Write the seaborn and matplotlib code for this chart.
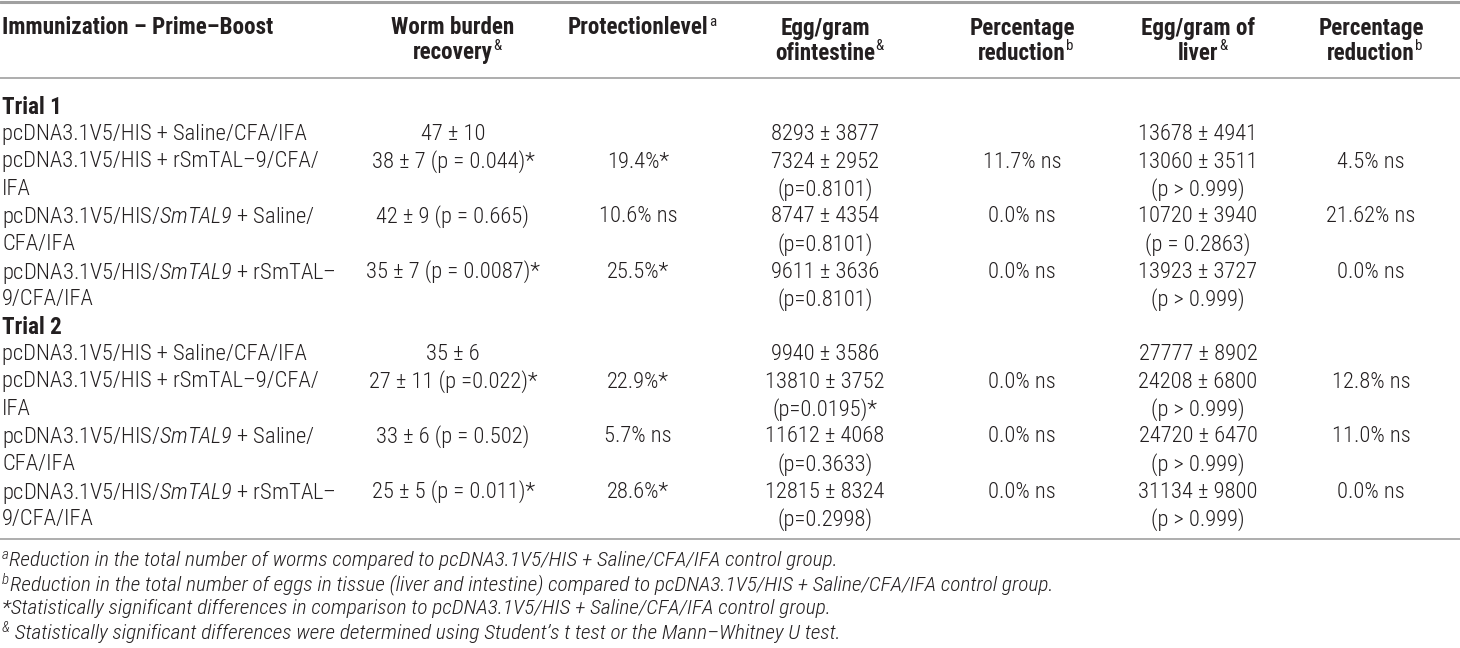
import seaborn as sns
import matplotlib
matplotlib.use("Agg")
import matplotlib.pyplot as plt
from matplotlib import font_manager

# table contents
headers = ["Immunization \u2013 Prime\u2013Boost",
           "Worm burden\nrecovery",
           "Protectionlevel",
           "Egg/gram\nofintestine",
           "Percentage\nreduction",
           "Egg/gram of\nliver",
           "Percentage\nreduction"]
header_sups = ["", "&", "a", "&", "b", "&", "b"]

groups = ["Trial 1", "Trial 2"]

labels = ["pcDNA3.1V5/HIS + Saline/CFA/IFA",
          "pcDNA3.1V5/HIS + rSmTAL\u20139/CFA/\nIFA",
          "pcDNA3.1V5/HIS/$\\mathrm{SmTAL9}$ + Saline/\nCFA/IFA",
          "pcDNA3.1V5/HIS/$\\mathrm{SmTAL9}$ + rSmTAL\u2013\n9/CFA/IFA"]

worm_t1 = ["47 \u00b1 10", "38 \u00b1 7 (p = 0.044)*", "42 \u00b1 9 (p = 0.665)", "35 \u00b1 7 (p = 0.0087)*"]
prot_t1 = ["", "19.4%*", "10.6% ns", "25.5%*"]
egg_int_t1 = ["8293 \u00b1 3877", "7324 \u00b1 2952\n(p=0.8101)", "8747 \u00b1 4354\n(p=0.8101)", "9611 \u00b1 3636\n(p=0.8101)"]
red_int_t1 = ["", "11.7% ns", "0.0% ns", "0.0% ns"]
egg_liv_t1 = ["13678 \u00b1 4941", "13060 \u00b1 3511\n(p > 0.999)", "10720 \u00b1 3940\n(p = 0.2863)", "13923 \u00b1 3727\n(p > 0.999)"]
red_liv_t1 = ["", "4.5% ns", "21.62% ns", "0.0% ns"]

worm_t2 = ["35 \u00b1 6", "27 \u00b1 11 (p =0.022)*", "33 \u00b1 6 (p = 0.502)", "25 \u00b1 5 (p = 0.011)*"]
prot_t2 = ["", "22.9%*", "5.7% ns", "28.6%*"]
egg_int_t2 = ["9940 \u00b1 3586", "13810 \u00b1 3752\n(p=0.0195)*", "11612 \u00b1 4068\n(p=0.3633)", "12815 \u00b1 8324\n(p=0.2998)"]
red_int_t2 = ["", "0.0% ns", "0.0% ns", "0.0% ns"]
egg_liv_t2 = ["27777 \u00b1 8902", "24208 \u00b1 6800\n(p > 0.999)", "24720 \u00b1 6470\n(p > 0.999)", "31134 \u00b1 9800\n(p > 0.999)"]
red_liv_t2 = ["", "12.8% ns", "11.0% ns", "0.0% ns"]

foot_marks = ["a", "b", "", "&"]
footnotes = ["Reduction in the total number of worms compared to pcDNA3.1V5/HIS + Saline/CFA/IFA control group.",
             "Reduction in the total number of eggs in tissue (liver and intestine) compared to pcDNA3.1V5/HIS + Saline/CFA/IFA control group.",
             "*Statistically significant differences in comparison to pcDNA3.1V5/HIS + Saline/CFA/IFA control group.",
             " Statistically significant differences were determined using Student\u2019s t test or the Mann\u2013Whitney U test."]

sns.set_theme(style="white")

# a narrow sans with regular, bold and italic faces, if there is one
faces = {}
for f in font_manager.fontManager.ttflist:
    faces.setdefault(f.name, set()).add((f.style, int(f.weight)))
font = "Liberation Sans"
for cand in ["Liberation Sans Narrow", "Roboto Condensed", "Archivo Narrow", "PT Sans Narrow",
             "Encode Sans Condensed", "Open Sans Condensed"]:
    s = faces.get(cand, set())
    if any(st == "normal" and w >= 600 for st, w in s) and any(st == "italic" for st, w in s):
        font = cand
        break
light = any(st == "normal" and w <= 300 for st, w in faces.get(font, set()))
light_it = any(st == "italic" and w <= 300 for st, w in faces.get(font, set()))
body_w = "light" if light else "normal"
foot_w = "light" if light_it else "normal"

plt.rcParams["font.family"] = [font, "DejaVu Sans"]
plt.rcParams["mathtext.fontset"] = "custom"
# only the gene name uses mathtext, so its roman slot holds the italic face
plt.rcParams["mathtext.rm"] = font + ":italic:" + body_w
plt.rcParams["mathtext.it"] = font + ":italic:" + body_w
plt.rcParams["mathtext.bf"] = font + ":bold"

fig = plt.figure(figsize=(14.6, 6.48), dpi=100)
ax = fig.add_axes([0, 0, 1, 1])
ax.set_xlim(0, 1460)
ax.set_ylim(648, 0)
ax.axis("off")
renderer = fig.canvas.get_renderer()

ink = "#231f20"
rule = "#a0a0a0"


def extent(t):
    bb = t.get_window_extent(renderer)
    return ax.transData.inverted().transform([[bb.x0, bb.y0], [bb.x1, bb.y1]])


def width_at(s, size, **kw):
    t = ax.text(0, 0, s, fontsize=size, **kw)
    (x0, _), (x1, _) = extent(t)
    t.remove()
    return x1 - x0


# fit font sizes to the widths seen in the picture
fs = min(13.0 * 303 / width_at(labels[0], 13.0, fontweight=body_w), 19.0)
fs_head = min(13.0 * 270 / width_at(headers[0], 13.0, fontweight="bold"), 19.0)
fs_foot = min(12.0 * 828 / width_at(footnotes[0], 12.0, style="italic", fontweight=foot_w), 17.0)

col_x = [2, 453, 638, 825, 1022, 1198, 1371]

# header
ax.text(col_x[0], 28, headers[0], ha="left", va="center", fontsize=fs_head, fontweight="bold", color=ink)
for x, h, s in zip(col_x[1:], headers[1:], header_sups[1:]):
    parts = h.split("\n")
    for i, part in enumerate(parts):
        t = ax.text(x, 28 + 25 * i, part, ha="center", va="center", fontsize=fs_head, fontweight="bold", color=ink)
        if i == len(parts) - 1 and s:
            (x0, yb), (x1, yt) = extent(t)
            ax.text(x1 + 0.5, yt - 2, s, ha="left", va="top", fontsize=fs_head * 0.65, color=ink)

ax.plot([0, 1460], [1.5, 1.5], color=rule, lw=2.2)
ax.plot([0, 1460], [78, 78], color=rule, lw=1.2)
ax.plot([0, 1460], [539, 539], color=rule, lw=1.2)

# body
cols_t1 = [labels, worm_t1, prot_t1, egg_int_t1, red_int_t1, egg_liv_t1, red_liv_t1]
cols_t2 = [labels, worm_t2, prot_t2, egg_int_t2, red_int_t2, egg_liv_t2, red_liv_t2]

y0, pitch = 104.5, 27.5
line = 0
for g, cols in zip(groups, [cols_t1, cols_t2]):
    ax.text(col_x[0], y0 + pitch * line, g, ha="left", va="center_baseline", fontsize=fs_head, fontweight="bold", color=ink)
    line += 1
    for r in range(len(labels)):
        n = max(len(c[r].split("\n")) for c in cols)
        for ci, c in enumerate(cols):
            for k, part in enumerate(c[r].split("\n")):
                ax.text(col_x[ci], y0 + pitch * (line + k), part,
                        ha="left" if ci == 0 else "center", va="center_baseline",
                        fontsize=fs, fontweight=body_w, color=ink)
        line += n

# footnotes
for i, (m, f) in enumerate(zip(foot_marks, footnotes)):
    y = 560 + 24.5 * i
    x = 2
    if m:
        t = ax.text(x, y - 5, m, ha="left", va="center", fontsize=fs_foot * 0.7, style="italic",
                    fontweight=foot_w, color=ink)
        (x0, yb), (x1, yt) = extent(t)
        x = x1 + 0.5
    ax.text(x, y, f, ha="left", va="center", fontsize=fs_foot, style="italic", fontweight=foot_w, color=ink)

fig.savefig("out.png", dpi=100)
